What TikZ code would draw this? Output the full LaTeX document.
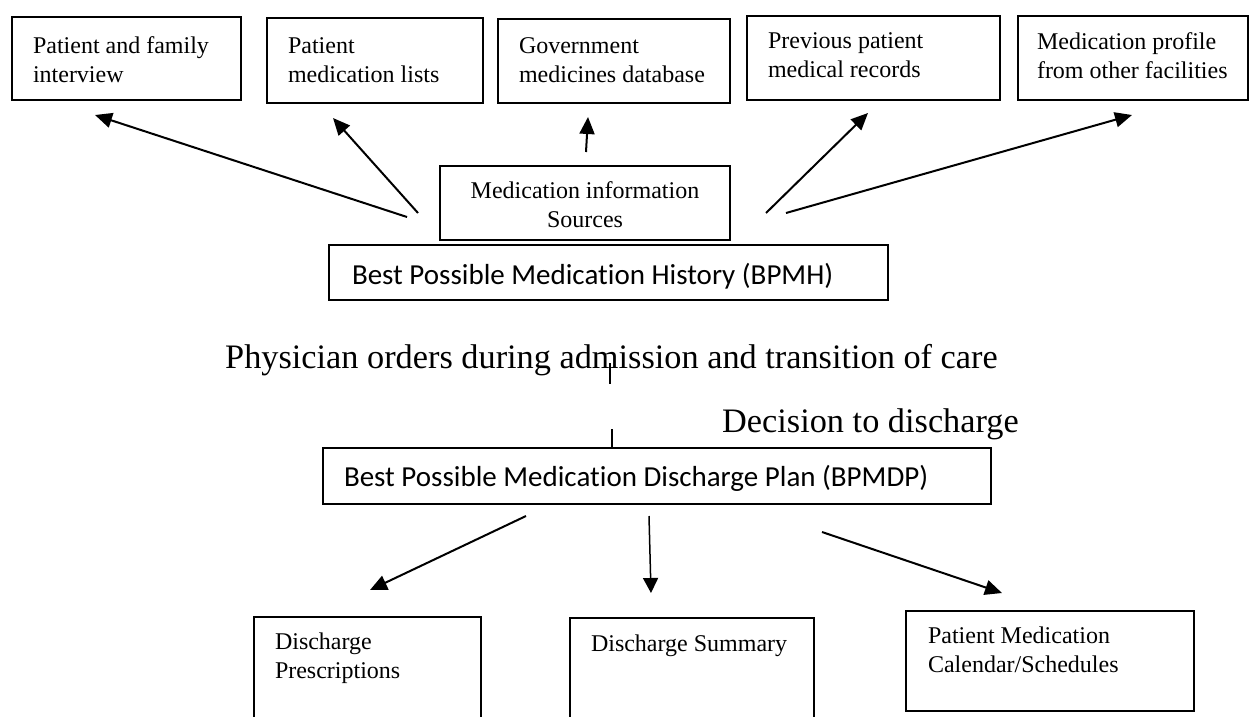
\documentclass[tikz,border=0pt]{standalone}
\usepackage{fontspec}
\setmainfont{Liberation Serif}
\newfontfamily\calibrifont[Ligatures=NoCommon]{Carlito}
\usetikzlibrary{arrows.meta}

\tikzset{
  srcbox/.style={draw, line width=2pt, inner xsep=21pt, inner ysep=0pt,
    anchor=north west, align=flush left, font=\fontsize{24}{29}\selectfont,
    execute at begin node={\hyphenpenalty=10000\relax\exhyphenpenalty=10000\relax}},
  planbox/.style={draw, line width=2pt, inner xsep=21pt, inner ysep=0pt,
    anchor=north west, align=flush left, font=\calibrifont\fontsize{29}{34}\selectfont},
  flowarrow/.style={line width=2pt, -{Triangle[length=17pt,width=15pt]}},
  thinarrow/.style={line width=1.5pt, -{Triangle[length=15pt,width=15pt]}},
  linkline/.style={line width=1.6pt},
  caption/.style={inner sep=0pt, anchor=base west, font=\fontsize{34.3}{40}\selectfont}
}

\begin{document}
\begin{tikzpicture}[x=1pt, y=-1pt]
  \useasboundingbox (0,0) rectangle (1250,716);

  % medication information sources
  \node[srcbox, text width=187pt, text height=36pt, text depth=47pt] (b1) at (11,16)
    {Patient~and~family\\interview};
  \node[srcbox, text width=174pt, text height=35pt, text depth=50pt] (b2) at (266,17)
    {Patient\\medication~lists};
  \node[srcbox, text width=190pt, text height=34pt, text depth=50pt] (b3) at (497,18)
    {Government\\medicines~database};
  \node[srcbox, text width=211pt, text height=32pt, text depth=52pt] (b4) at (746,15)
    {Previous~patient\\medical~records};
  \node[srcbox, inner xsep=19pt, text width=192pt, text height=33pt, text depth=51pt]
    (b5) at (1017,15) {Medication~profile\\from~other~facilities};

  \node[srcbox, inner xsep=10pt, align=flush center, text width=270pt,
        text height=32pt, text depth=42pt] (src) at (439,165)
    {Medication~information\\Sources};

  \node[planbox, inner xsep=23pt, text width=513pt, text height=39pt, text depth=16pt]
    (bpmh) at (328,244) {Best Possible Medication History (BPMH)};

  % admission and discharge decision
  \node[caption] (phys) at (225,368)
    {Physician orders during admission and transition of care};
  \node[caption] (dec) at (722,432) {Decision to discharge};

  \node[planbox, text width=626pt, text height=38pt, text depth=18pt]
    (bpmdp) at (322,447) {Best Possible Medication Discharge Plan (BPMDP)};

  % discharge documents
  \node[srcbox, text width=185pt, text height=32pt, text depth=72pt] (d1) at (253,616)
    {Discharge\\Prescriptions};
  \node[srcbox, text width=202pt, text height=33pt, text depth=70pt] (d2) at (569,617)
    {Discharge~Summary};
  \node[srcbox, inner xsep=22pt, text width=244pt, text height=32pt, text depth=68pt]
    (d3) at (905,610) {Patient~Medication\\Calendar/Schedules};

  % arrow end points
  \coordinate (a1s) at (407,217);  \coordinate (a1e) at (95,115);
  \coordinate (a2s) at (418,213);  \coordinate (a2e) at (333,118);
  \coordinate (a3s) at (586,152);  \coordinate (a3e) at (588,117);
  \coordinate (a4s) at (766,213);  \coordinate (a4e) at (868,113);
  \coordinate (a5s) at (786,213);  \coordinate (a5e) at (1132,115);

  \coordinate (c1s) at (526,516);  \coordinate (c1e) at (370,590);
  \coordinate (c2s) at (649,516);  \coordinate (c2e) at (651,593);
  \coordinate (c3s) at (822,532);  \coordinate (c3e) at (1002,593);

  \coordinate (t1top) at (610,363); \coordinate (t1bot) at (610,384);
  \coordinate (t2top) at (612,429);

  \draw[flowarrow] (a1s) -- (a1e);
  \draw[flowarrow] (a2s) -- (a2e);
  \draw[flowarrow] (a3s) -- (a3e);
  \draw[flowarrow] (a4s) -- (a4e);
  \draw[flowarrow] (a5s) -- (a5e);

  \draw[linkline] (t1top) -- (t1bot);
  \draw[linkline] (t2top) -- (t2top |- bpmdp.north);

  \draw[flowarrow] (c1s) -- (c1e);
  \draw[thinarrow] (c2s) -- (c2e);
  \draw[flowarrow] (c3s) -- (c3e);
\end{tikzpicture}
\end{document}
